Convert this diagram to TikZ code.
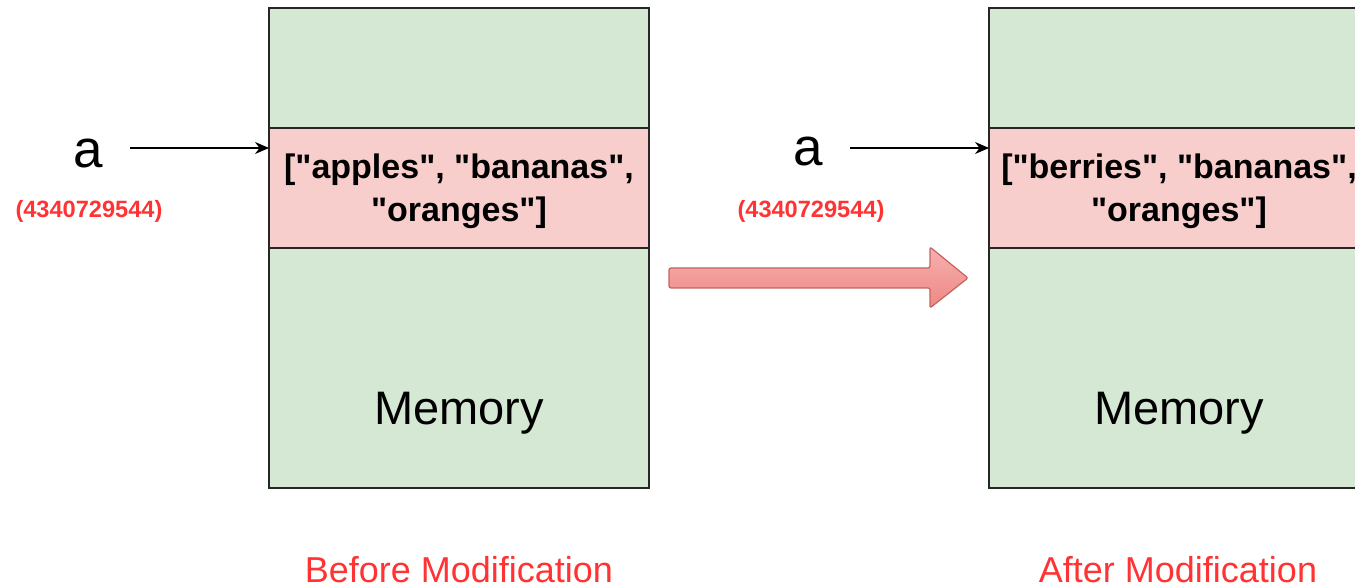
\documentclass[tikz,border=0pt]{standalone}
\usepackage{fontspec}
\setmainfont{Liberation Sans}
\usetikzlibrary{arrows.meta, positioning}
\newcommand{\qt}{\textquotedbl}
\definecolor{memgreen}{HTML}{D5E8D4}
\definecolor{mempink}{HTML}{F8CECC}
\definecolor{addrred}{HTML}{FF3333}
\definecolor{bigtop}{HTML}{F6B0AE}
\definecolor{bigbottom}{HTML}{EE8884}
\definecolor{bigline}{HTML}{C46360}
\tikzset{
	cell/.style={draw=black!85, line width=1pt, minimum width=190pt, minimum height=60pt, inner sep=0pt, outer sep=0pt},
	listtext/.style={font=\bfseries\fontsize{17}{21.5}\selectfont, align=center},
	memtext/.style={font=\fontsize{23.5}{24}\selectfont},
	varname/.style={font=\fontsize{26.5}{27}\selectfont},
	addr/.style={text=addrred, font=\bfseries\fontsize{11.8}{12}\selectfont},
	caption/.style={text=addrred, font=\fontsize{18}{18}\selectfont},
	ptr/.style={line width=0.6pt, -{Stealth[length=7pt, width=6pt]}}
}

\begin{document}
\begin{tikzpicture}[x=0.5pt, y=-0.5pt]
	\useasboundingbox (0,0) rectangle (1355,587);
	\clip (0,0) rectangle (1355,587);
	% before
	\node[cell, fill=memgreen] (memL-top) at (459,68) {};
	\node[cell, fill=mempink, below=0pt of memL-top] (memL-mid) {};
	\node[cell, fill=memgreen, minimum height=120pt, below=0pt of memL-mid] (memL-bot) {};
	\node[listtext] (listL) at ([yshift=-1.5pt]memL-mid.center) {[\qt apples\qt, \qt bananas\qt,\\\qt oranges\qt]};
	\node[memtext] (memL-label) at ([yshift=-22.5pt]memL-bot.center) {Memory};
	\node[varname] (varL) at (88,154) {a};
	\node[addr] (addrL) at (89,211) {(4340729544)};
	\coordinate (ptrL) at (130,148);
	\draw[ptr] (ptrL) -- (ptrL -| memL-mid.west);
	\node[caption] (capL) at (459,570) {Before Modification};
	% the change
	\draw[bigline, line width=0.6pt, rounded corners=1pt, top color=bigtop, bottom color=bigbottom]
		(669,268) -- (930,268) -- (930,247) -- (968,278) -- (930,308) -- (930,288) -- (669,288) -- cycle;
	% after
	\node[cell, fill=memgreen] (memR-top) at (1179,68) {};
	\node[cell, fill=mempink, below=0pt of memR-top] (memR-mid) {};
	\node[cell, fill=memgreen, minimum height=120pt, below=0pt of memR-mid] (memR-bot) {};
	\node[listtext] (listR) at ([yshift=-1.5pt]memR-mid.center) {[\qt berries\qt, \qt bananas\qt,\\\qt oranges\qt]};
	\node[memtext] (memR-label) at ([yshift=-22.5pt]memR-bot.center) {Memory};
	\node[varname] (varR) at (808,152) {a};
	\node[addr] (addrR) at (811,211) {(4340729544)};
	\coordinate (ptrR) at (850,148);
	\draw[ptr] (ptrR) -- (ptrR -| memR-mid.west);
	\node[caption] (capR) at (1178,570) {After Modification};
\end{tikzpicture}
\end{document}
